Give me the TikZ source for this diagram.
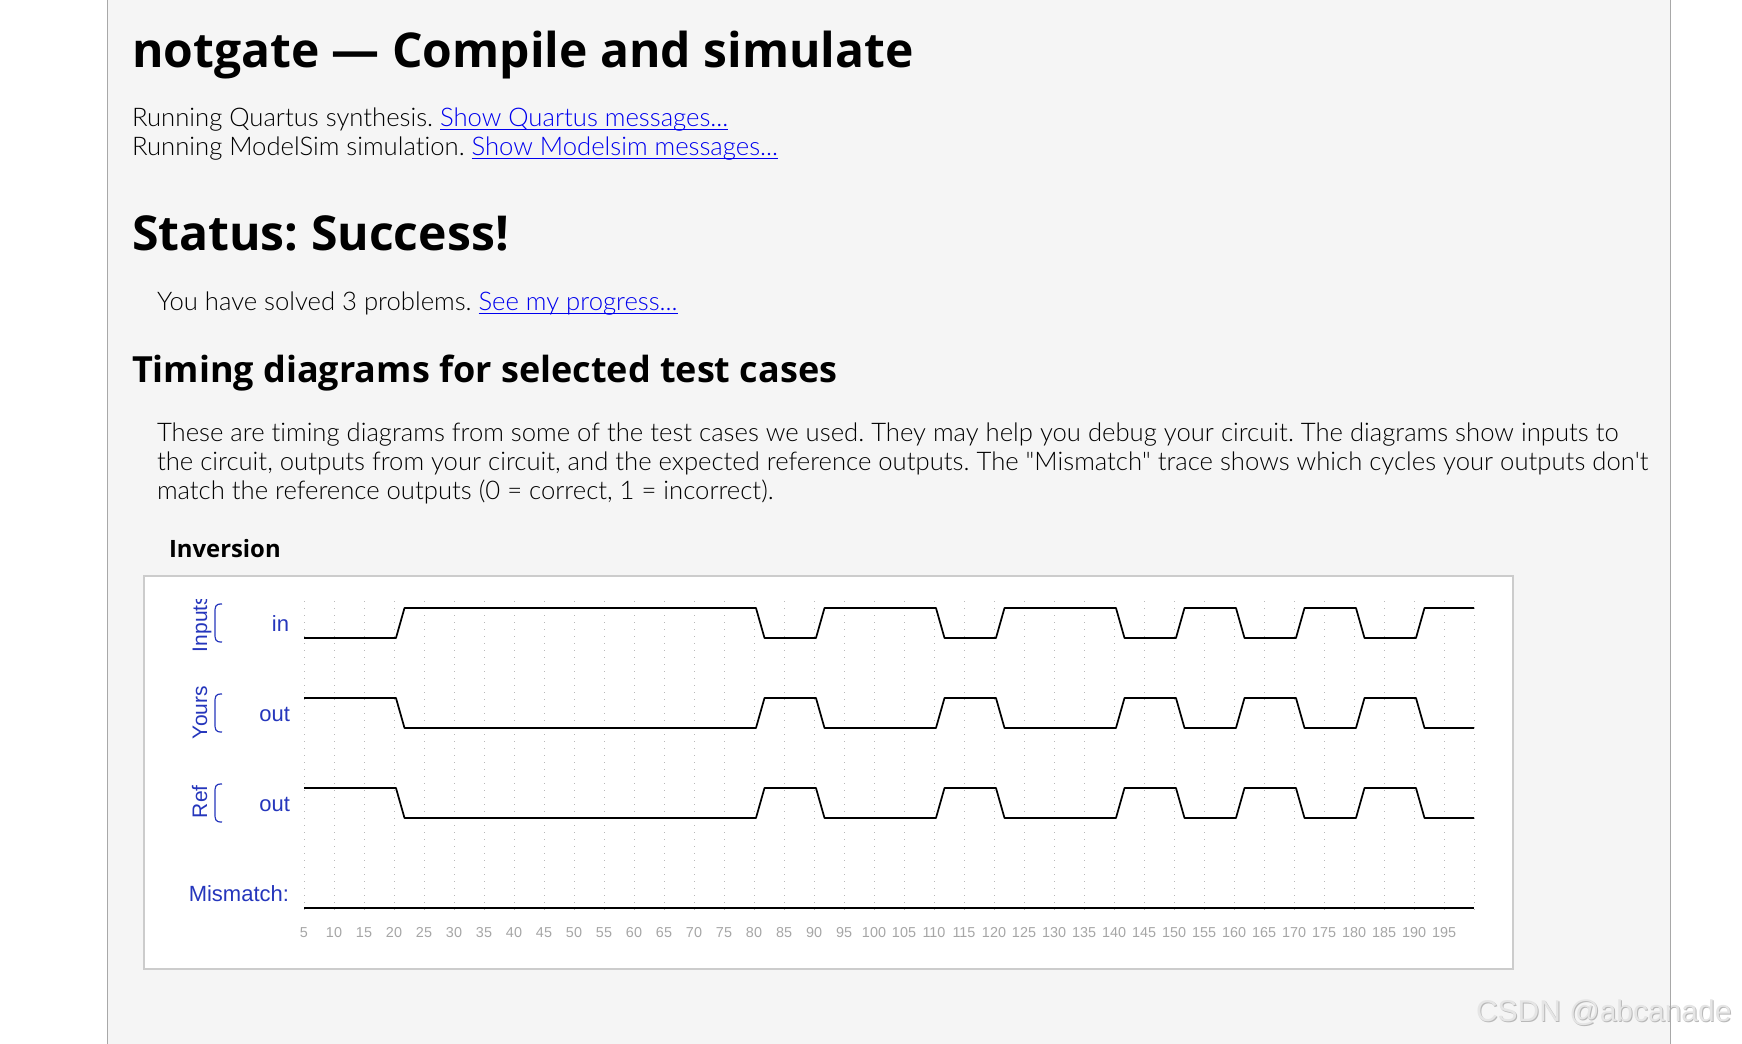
\documentclass[tikz,border=0pt]{standalone}
\usepackage{fontspec}
\newfontfamily\bodyfont{Lato Light}[Ligatures=NoCommon]
\newfontfamily\headfont{Open Sans}
\newfontfamily\chartfont{Liberation Sans}
\definecolor{panel}{HTML}{F5F5F5}
\definecolor{pagerule}{HTML}{A8A8A8}
\definecolor{frame}{HTML}{CCCCCC}
\definecolor{linkblue}{HTML}{0000EE}
\definecolor{sigblue}{HTML}{2536BC}
\definecolor{ticklabel}{HTML}{A6A6A6}
\definecolor{griddot}{HTML}{B8B8B8}
\newcommand\lnk[1]{{\color{linkblue}\underline{\smash{#1}}}}
\begin{document}
\frenchspacing
\begin{tikzpicture}[x=0.75pt,y=-0.75pt,
  every node/.style={inner sep=0,outer sep=0},
  heading/.style={anchor=base west,font=\headfont\bfseries\fontsize{#1}{#1}\selectfont},
  body/.style={anchor=base west,font=\bodyfont\fontsize{19.25}{23}\selectfont},
  siglabel/.style={anchor=base east,text=sigblue,font=\chartfont\fontsize{16.5}{20}\selectfont},
  grouplabel/.style={anchor=base west,rotate=90,text=sigblue,font=\chartfont\fontsize{15.75}{19}\selectfont},
  wave/.style={line width=1.3pt,line join=round}]
\useasboundingbox (0,0) rectangle (1742,1044);
\fill[white] (0,0) rectangle (1742,1044);
\fill[panel] (107,0) rectangle (1670,1044);

\node[heading=36] (title) at (132,68) {notgate — Compile and simulate};
\node[body] (quartus) at (132,127) {Running Quartus synthesis. \lnk{Show Quartus messages...}};
\node[body] (modelsim) at (132,156) {Running ModelSim simulation. \lnk{Show Modelsim messages...}};
\node[heading=36.1] (status) at (132,251) {Status: Success!};
\node[body] (solved) at (157,311) {You have solved 3 problems. \lnk{See my progress...}};
\node[heading=27] (timing) at (132,383) {Timing diagrams for selected test cases};
\node[body] (para1) at (157,442) {These are timing diagrams from some of the test cases we used. They may help you debug your circuit. The diagrams show inputs to};
\node[body] (para2) at (157,471) {the circuit, outputs from your circuit, and the expected reference outputs. The "Mismatch" trace shows which cycles your outputs don't};
\node[body] (para3) at (157,500) {match the reference outputs (0 = correct, 1 = incorrect).};
\node[heading=17.9] (inversion) at (169,557) {Inversion};

\filldraw[fill=white,draw=frame,line width=0.9pt] (144,576) rectangle (1513,969);
\foreach \t in {5,10,...,200}
  \draw[griddot,line width=0.75pt,dash pattern=on 0.75pt off 4.5pt] ({274+6*\t},601)--({274+6*\t},913);
\foreach \t in {5,10,...,195}
  \node[text=ticklabel,font=\chartfont\fontsize{10.8}{12}\selectfont] (tick\t) at ({274+6*\t},933) {\t};

\begin{scope}[shift={(274,638)},x=4.5pt,y=22.5pt]
\foreach \b/\inv in {0/0,-3/1,-6/1}
  \draw[wave] (5,{\b+\inv}) \foreach \t/\l in {20/1,80/0,90/1,110/0,120/1,140/0,150/1,160/0,170/1,180/0,190/1}
    { -- ({\t+.33},{\b+1-abs(\l-\inv)}) -- ({\t+1.75},{\b+abs(\l-\inv)}) } -- (200,{\b+abs(1-\inv)});
\draw[wave] (5,-9)--(200,-9);
\end{scope}

\begin{scope}
\clip (150,599) rectangle (260,700);
\node[grouplabel] (inputs) at (207,652) {Inputs};
\end{scope}
\node[grouplabel] (yours) at (207,739) {Yours};
\node[grouplabel] (ref) at (207,818) {Ref};
\foreach \y in {604,694,784}
  \draw[sigblue,line width=0.9pt] (222,\y) .. controls (215,\y) and (215,\y+2) .. (215,\y+10) -- (215,\y+28) .. controls (215,\y+36) and (215,\y+38) .. (222,\y+38);
\node[siglabel] (in) at (289,631) {in};
\node[siglabel] (yoursout) at (290,721) {out};
\node[siglabel] (refout) at (290,811) {out};
\node[siglabel] (mismatch) at (289,901) {Mismatch:};

\node[anchor=base west,text=black!28,font=\chartfont\fontsize{22.5}{26}\selectfont] (shade) at (1477,1022) {CSDN @abcanade};
\node[anchor=base west,text=black!10,font=\chartfont\fontsize{22.5}{26}\selectfont] (csdn) at (1476,1021) {CSDN @abcanade};
\draw[pagerule] (107,0)--(107,1044) (1670,0)--(1670,1044);
\end{tikzpicture}
\end{document}
